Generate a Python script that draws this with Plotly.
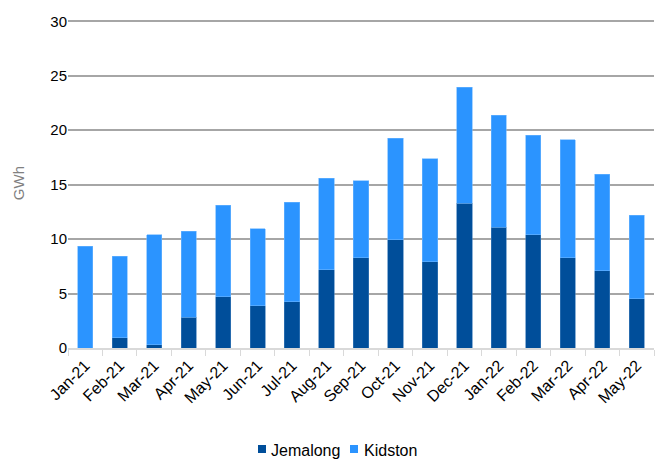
import plotly.graph_objects as go

months = ["Jan-21", "Feb-21", "Mar-21", "Apr-21", "May-21", "Jun-21", "Jul-21", "Aug-21",
          "Sep-21", "Oct-21", "Nov-21", "Dec-21", "Jan-22", "Feb-22", "Mar-22", "Apr-22", "May-22"]
jemalong = [0.0, 0.92, 0.31, 2.84, 4.69, 3.86, 4.26, 7.20,
            8.27, 9.93, 7.90, 13.27, 11.09, 10.42, 8.27, 7.11, 4.54]
totals = [9.35, 8.43, 10.42, 10.72, 13.09, 10.97, 13.39, 15.59,
          15.38, 19.27, 17.37, 23.93, 21.39, 19.52, 19.12, 15.94, 12.17]
kidston = [round(t - j, 2) for t, j in zip(totals, jemalong)]

series_names = ["Jemalong", "Kidston"]
series_colors = ["#004E9A", "#2B94FF"]
edge_colors = ["#3F7DBA", "#6DB5FF"]

font_family = "Liberation Sans, Arial, sans-serif"
W, H = 661, 462
M = dict(l=68, r=7, t=18, b=114)
plot_w = W - M["l"] - M["r"]
plot_h = H - M["t"] - M["b"]


def px_x(px):
    return (px - M["l"]) / plot_w


def px_y(py):
    return (H - M["b"] - py) / plot_h


fig = go.Figure()
for name, vals, col, edge in zip(series_names, [jemalong, kidston], series_colors, edge_colors):
    fig.add_trace(go.Bar(x=months, y=vals, name=name, showlegend=False,
                         marker=dict(color=col, line=dict(color=edge, width=0.6))))

# Legend row below the axis: small colour squares followed by series names
legend_items = [(258, 269), (350, 362)]
shapes, annotations = [], []
for (sq_x, txt_x), name, col in zip(legend_items, series_names, series_colors):
    shapes.append(dict(type="rect", xref="paper", yref="paper",
                       x0=px_x(sq_x), x1=px_x(sq_x + 8), y0=px_y(453), y1=px_y(445),
                       fillcolor=col, line=dict(width=0)))
    annotations.append(dict(text=name, xref="paper", yref="paper", x=px_x(txt_x), y=px_y(450),
                            xanchor="left", yanchor="middle", showarrow=False,
                            font=dict(size=16, color="#000000")))

annotations.append(dict(text="GWh", xref="paper", yref="paper", x=-0.085, y=0.5,
                        xanchor="center", yanchor="middle", textangle=-90, showarrow=False,
                        font=dict(size=15, color="#808080")))

fig.update_layout(
    barmode="stack",
    bargap=0.56,
    width=W, height=H,
    margin=M,
    paper_bgcolor="white", plot_bgcolor="white",
    font=dict(family=font_family, size=14, color="#000000"),
    showlegend=False,
    xaxis=dict(
        type="category", tickangle=-45, tickfont=dict(size=16), automargin=False,
        showline=True, linecolor="#D9D9D9", linewidth=1.5,
        ticks="outside", tickson="boundaries", ticklen=6, tickcolor="#D9D9D9",
        showgrid=False,
    ),
    yaxis=dict(
        range=[0, 30.3], tickvals=[0, 5, 10, 15, 20, 25, 30], tickfont=dict(size=15),
        automargin=False,
        showgrid=True, gridcolor="#A6A6A6", gridwidth=1.5,
        zeroline=False,
    ),
    shapes=shapes,
    annotations=annotations,
)

fig.write_html("out.html")
